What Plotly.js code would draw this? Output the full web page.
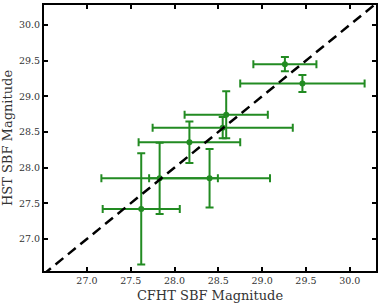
<!DOCTYPE html>
<html>
<head>
<meta charset="utf-8">
<script src="https://cdn.plot.ly/plotly-3.0.1.min.js"></script>
<style>html,body{margin:0;padding:0;background:#fff;}#chart{width:382px;height:304px;}</style>
</head>
<body>
<div id="chart"></div>
<script>
// CFHT vs HST SBF magnitudes
const cfhtMag = [29.26, 29.46, 28.59, 28.55, 28.17, 27.83, 28.40, 27.62];
const cfhtErr = [0.36, 0.71, 0.475, 0.80, 0.58, 0.665, 0.69, 0.44];
const hstMag  = [29.45, 29.18, 28.74, 28.56, 28.355, 27.85, 27.85, 27.42];
const hstErr  = [0.10, 0.12, 0.33, 0.15, 0.29, 0.50, 0.41, 0.78];
const oneToOne = [26.5, 30.3];
const tickValues = [27.0, 27.5, 28.0, 28.5, 29.0, 29.5, 30.0];
const tickLabels = ["27.0", "27.5", "28.0", "28.5", "29.0", "29.5", "30.0"];

const green = '#228B22';
const data = [
  {
    x: cfhtMag, y: hstMag, type: 'scatter', mode: 'markers',
    marker: {color: green, size: 6},
    error_x: {type: 'data', array: cfhtErr, visible: true, color: green, thickness: 2, width: 4},
    error_y: {type: 'data', array: hstErr, visible: true, color: green, thickness: 2, width: 4},
    showlegend: false, hoverinfo: 'skip'
  },
  {
    x: oneToOne, y: oneToOne, type: 'scatter', mode: 'lines',
    line: {color: '#000', width: 2.5, dash: '10px,6px'},
    showlegend: false, hoverinfo: 'skip'
  }
];

const tickFont = {family: 'DejaVu Serif', size: 9.5, color: '#333'};
const titleFont = {family: 'DejaVu Serif', size: 13, color: '#333'};
const axisCommon = {
  tickvals: tickValues, ticktext: tickLabels,
  ticks: 'inside', ticklen: 4, tickwidth: 2, tickcolor: '#000',
  showline: true, linewidth: 2, linecolor: '#000', mirror: 'ticks',
  showgrid: false, zeroline: false, tickfont: tickFont
};

const layout = {
  width: 382, height: 304,
  margin: {l: 44, r: 6, t: 5, b: 33},
  paper_bgcolor: '#fff', plot_bgcolor: '#fff',
  xaxis: Object.assign({}, axisCommon, {
    range: [26.51, 30.3],
    title: {text: 'CFHT SBF Magnitude', font: titleFont, standoff: 5}
  }),
  yaxis: Object.assign({}, axisCommon, {
    range: [26.55, 30.28],
    title: {text: 'HST SBF Magnitude', font: titleFont, standoff: 4}
  })
};

Plotly.newPlot('chart', data, layout, {staticPlot: true, displayModeBar: false});
</script>
</body>
</html>
